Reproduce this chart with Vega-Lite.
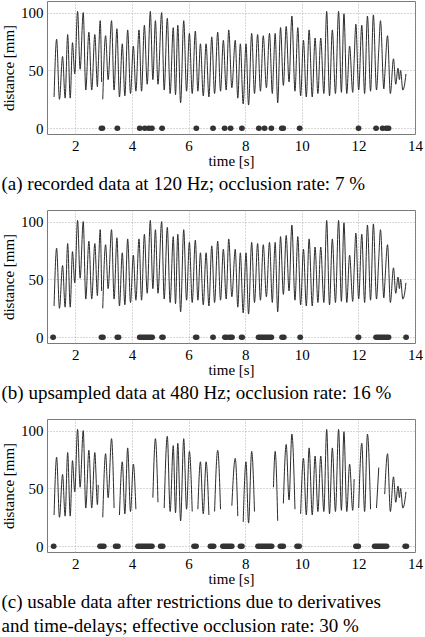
{
  "$schema": "https://vega.github.io/schema/vega-lite/v6.json",
  "background": "white",
  "padding": {"left": 1, "top": 0, "right": 5, "bottom": 0},
  "spacing": 14,
  "config": {
    "view": {"stroke": "#7a7a7a", "strokeWidth": 1},
    "axis": {
      "labelFont": "Liberation Serif", "labelFontSize": 15, "labelColor": "#000",
      "titleFont": "Liberation Serif", "titleFontSize": 15, "titleFontWeight": "normal", "titleColor": "#000",
      "domain": false, "ticks": false, "tickSize": 0, "labelPadding": 4,
      "grid": true, "gridDash": [1, 2], "gridColor": "#9a9a9a", "gridWidth": 0.8
    },
    "title": {"font": "Liberation Serif", "fontSize": 19, "fontWeight": "normal", "color": "#000", "orient": "bottom", "anchor": "start", "frame": "bounds", "offset": 7, "lineHeight": 24}
  },
  "datasets": {
    "sig": [
      {"t": 1.25, "d": 27, "a": 1, "b": 1, "c": 1},
      {"t": 1.34, "d": 77, "a": 1, "b": 1, "c": 1},
      {"t": 1.44, "d": 25, "a": 1, "b": 1, "c": 1},
      {"t": 1.55, "d": 62, "a": 1, "b": 1, "c": 1},
      {"t": 1.64, "d": 26, "a": 1, "b": 1, "c": 1},
      {"t": 1.73, "d": 81, "a": 1, "b": 1, "c": 1},
      {"t": 1.82, "d": 26, "a": 1, "b": 1, "c": 1},
      {"t": 1.90, "d": 74, "a": 1, "b": 1, "c": 1},
      {"t": 1.98, "d": 47, "a": 1, "b": 1, "c": 1},
      {"t": 2.08, "d": 101, "a": 1, "b": 1, "c": 1},
      {"t": 2.17, "d": 51, "a": 1, "b": 1, "c": 1},
      {"t": 2.28, "d": 100, "a": 1, "b": 1, "c": 1},
      {"t": 2.37, "d": 33, "a": 1, "b": 1, "c": 1},
      {"t": 2.48, "d": 83, "a": 1, "b": 1, "c": 1},
      {"t": 2.58, "d": 33, "a": 1, "b": 1, "c": 1},
      {"t": 2.69, "d": 81, "a": 1, "b": 1, "c": 1},
      {"t": 2.78, "d": 36, "a": 1, "b": 1, "c": 1},
      {"t": 2.81, "d": 53, "a": 1, "b": 1, "c": 1},
      {"t": 2.88, "d": 93, "a": 1, "b": 1, "c": 0},
      {"t": 2.93, "d": 40, "a": 1, "b": 1, "c": 0},
      {"t": 2.97, "d": 25, "a": 2, "b": 2, "c": 2},
      {"t": 3.07, "d": 80, "a": 2, "b": 2, "c": 2},
      {"t": 3.16, "d": 42, "a": 2, "b": 2, "c": 2},
      {"t": 3.28, "d": 93, "a": 2, "b": 2, "c": 2},
      {"t": 3.37, "d": 33, "a": 2, "b": 2, "c": 2},
      {"t": 3.47, "d": 86, "a": 2, "b": 2, "c": 0},
      {"t": 3.56, "d": 27, "a": 2, "b": 2, "c": 3},
      {"t": 3.66, "d": 73, "a": 2, "b": 2, "c": 3},
      {"t": 3.75, "d": 28, "a": 2, "b": 2, "c": 3},
      {"t": 3.85, "d": 85, "a": 2, "b": 2, "c": 3},
      {"t": 3.95, "d": 30, "a": 2, "b": 2, "c": 3},
      {"t": 4.05, "d": 71, "a": 2, "b": 2, "c": 3},
      {"t": 4.14, "d": 32, "a": 2, "b": 2, "c": 3},
      {"t": 4.25, "d": 85, "a": 2, "b": 2, "c": 0},
      {"t": 4.34, "d": 32, "a": 2, "b": 2, "c": 0},
      {"t": 4.44, "d": 89, "a": 2, "b": 2, "c": 0},
      {"t": 4.54, "d": 38, "a": 2, "b": 2, "c": 0},
      {"t": 4.65, "d": 101, "a": 2, "b": 2, "c": 0},
      {"t": 4.74, "d": 42, "a": 2, "b": 2, "c": 4},
      {"t": 4.83, "d": 93, "a": 2, "b": 2, "c": 4},
      {"t": 4.92, "d": 38, "a": 2, "b": 2, "c": 4},
      {"t": 5.05, "d": 100, "a": 2, "b": 2, "c": 0},
      {"t": 5.14, "d": 33, "a": 2, "b": 2, "c": 5},
      {"t": 5.25, "d": 95, "a": 2, "b": 2, "c": 5},
      {"t": 5.35, "d": 30, "a": 2, "b": 2, "c": 5},
      {"t": 5.46, "d": 87, "a": 2, "b": 2, "c": 5},
      {"t": 5.54, "d": 29, "a": 2, "b": 2, "c": 5},
      {"t": 5.62, "d": 89, "a": 2, "b": 2, "c": 5},
      {"t": 5.72, "d": 22, "a": 2, "b": 2, "c": 5},
      {"t": 5.83, "d": 93, "a": 2, "b": 2, "c": 5},
      {"t": 5.93, "d": 32, "a": 2, "b": 2, "c": 5},
      {"t": 6.03, "d": 82, "a": 2, "b": 2, "c": 5},
      {"t": 6.13, "d": 30, "a": 2, "b": 2, "c": 5},
      {"t": 6.24, "d": 84, "a": 2, "b": 2, "c": 0},
      {"t": 6.33, "d": 32, "a": 2, "b": 2, "c": 6},
      {"t": 6.42, "d": 73, "a": 2, "b": 2, "c": 6},
      {"t": 6.52, "d": 28, "a": 2, "b": 2, "c": 6},
      {"t": 6.62, "d": 73, "a": 2, "b": 2, "c": 6},
      {"t": 6.72, "d": 27, "a": 2, "b": 2, "c": 6},
      {"t": 6.82, "d": 79, "a": 2, "b": 2, "c": 0},
      {"t": 6.92, "d": 30, "a": 2, "b": 2, "c": 7},
      {"t": 7.03, "d": 83, "a": 2, "b": 2, "c": 7},
      {"t": 7.13, "d": 32, "a": 2, "b": 2, "c": 7},
      {"t": 7.23, "d": 76, "a": 2, "b": 2, "c": 0},
      {"t": 7.33, "d": 33, "a": 2, "b": 2, "c": 0},
      {"t": 7.42, "d": 85, "a": 2, "b": 2, "c": 0},
      {"t": 7.53, "d": 35, "a": 2, "b": 2, "c": 8},
      {"t": 7.65, "d": 76, "a": 2, "b": 2, "c": 8},
      {"t": 7.74, "d": 26, "a": 2, "b": 2, "c": 8},
      {"t": 7.83, "d": 73, "a": 2, "b": 2, "c": 0},
      {"t": 7.93, "d": 21, "a": 2, "b": 2, "c": 9},
      {"t": 8.03, "d": 73, "a": 2, "b": 2, "c": 9},
      {"t": 8.12, "d": 20, "a": 2, "b": 2, "c": 9},
      {"t": 8.23, "d": 82, "a": 2, "b": 2, "c": 9},
      {"t": 8.33, "d": 30, "a": 2, "b": 2, "c": 9},
      {"t": 8.44, "d": 81, "a": 2, "b": 2, "c": 0},
      {"t": 8.54, "d": 32, "a": 2, "b": 2, "c": 0},
      {"t": 8.64, "d": 80, "a": 2, "b": 2, "c": 0},
      {"t": 8.75, "d": 35, "a": 2, "b": 2, "c": 0},
      {"t": 8.86, "d": 82, "a": 2, "b": 2, "c": 0},
      {"t": 8.96, "d": 30, "a": 2, "b": 2, "c": 0},
      {"t": 9.00, "d": 51, "a": 2, "b": 2, "c": 10},
      {"t": 9.06, "d": 82, "a": 2, "b": 2, "c": 10},
      {"t": 9.15, "d": 22, "a": 2, "b": 2, "c": 10},
      {"t": 9.25, "d": 87, "a": 2, "b": 2, "c": 0},
      {"t": 9.35, "d": 37, "a": 2, "b": 2, "c": 11},
      {"t": 9.45, "d": 88, "a": 2, "b": 2, "c": 11},
      {"t": 9.55, "d": 40, "a": 2, "b": 2, "c": 11},
      {"t": 9.65, "d": 97, "a": 2, "b": 2, "c": 11},
      {"t": 9.76, "d": 32, "a": 2, "b": 2, "c": 11},
      {"t": 9.86, "d": 87, "a": 2, "b": 2, "c": 0},
      {"t": 9.96, "d": 28, "a": 2, "b": 2, "c": 12},
      {"t": 10.06, "d": 76, "a": 2, "b": 2, "c": 12},
      {"t": 10.16, "d": 27, "a": 2, "b": 2, "c": 12},
      {"t": 10.26, "d": 85, "a": 2, "b": 2, "c": 12},
      {"t": 10.37, "d": 27, "a": 2, "b": 2, "c": 12},
      {"t": 10.47, "d": 78, "a": 2, "b": 2, "c": 12},
      {"t": 10.57, "d": 30, "a": 2, "b": 2, "c": 12},
      {"t": 10.67, "d": 78, "a": 2, "b": 2, "c": 12},
      {"t": 10.78, "d": 30, "a": 2, "b": 2, "c": 12},
      {"t": 10.88, "d": 101, "a": 2, "b": 2, "c": 12},
      {"t": 10.98, "d": 28, "a": 2, "b": 2, "c": 12},
      {"t": 11.08, "d": 85, "a": 2, "b": 2, "c": 12},
      {"t": 11.19, "d": 30, "a": 2, "b": 2, "c": 12},
      {"t": 11.30, "d": 101, "a": 2, "b": 2, "c": 12},
      {"t": 11.40, "d": 31, "a": 2, "b": 2, "c": 12},
      {"t": 11.49, "d": 99, "a": 2, "b": 2, "c": 12},
      {"t": 11.59, "d": 30, "a": 2, "b": 2, "c": 12},
      {"t": 11.69, "d": 71, "a": 2, "b": 2, "c": 12},
      {"t": 11.80, "d": 31, "a": 2, "b": 2, "c": 12},
      {"t": 11.85, "d": 58, "a": 2, "b": 2, "c": 12},
      {"t": 11.91, "d": 90, "a": 2, "b": 2, "c": 0},
      {"t": 12.01, "d": 33, "a": 2, "b": 2, "c": 13},
      {"t": 12.12, "d": 89, "a": 2, "b": 2, "c": 13},
      {"t": 12.22, "d": 30, "a": 2, "b": 2, "c": 13},
      {"t": 12.32, "d": 97, "a": 2, "b": 2, "c": 13},
      {"t": 12.43, "d": 32, "a": 2, "b": 2, "c": 13},
      {"t": 12.53, "d": 98, "a": 2, "b": 2, "c": 0},
      {"t": 12.64, "d": 33, "a": 2, "b": 2, "c": 14},
      {"t": 12.72, "d": 68, "a": 2, "b": 2, "c": 14},
      {"t": 12.78, "d": 93, "a": 2, "b": 2, "c": 0},
      {"t": 12.90, "d": 34, "a": 2, "b": 2, "c": 0},
      {"t": 12.93, "d": 45, "a": 2, "b": 2, "c": 15},
      {"t": 13.03, "d": 80, "a": 2, "b": 2, "c": 15},
      {"t": 13.13, "d": 30, "a": 2, "b": 2, "c": 15},
      {"t": 13.24, "d": 60, "a": 2, "b": 2, "c": 15},
      {"t": 13.32, "d": 38, "a": 2, "b": 2, "c": 15},
      {"t": 13.40, "d": 52, "a": 2, "b": 2, "c": 15},
      {"t": 13.45, "d": 42, "a": 2, "b": 2, "c": 15},
      {"t": 13.49, "d": 50, "a": 2, "b": 2, "c": 15},
      {"t": 13.57, "d": 33, "a": 2, "b": 2, "c": 15},
      {"t": 13.62, "d": 36, "a": 2, "b": 2, "c": 15},
      {"t": 13.68, "d": 47, "a": 2, "b": 2, "c": 15}
    ],
    "occ": [
      {"p": "a", "t0": 2.92, "t1": 2.96}, {"p": "a", "t0": 3.48, "t1": 3.49}, {"p": "a", "t0": 4.27, "t1": 4.28},
      {"p": "a", "t0": 4.45, "t1": 4.46}, {"p": "a", "t0": 4.59, "t1": 4.60}, {"p": "a", "t0": 4.70, "t1": 4.71},
      {"p": "a", "t0": 5.06, "t1": 5.07}, {"p": "a", "t0": 6.27, "t1": 6.28}, {"p": "a", "t0": 6.86, "t1": 6.87},
      {"p": "a", "t0": 7.27, "t1": 7.28}, {"p": "a", "t0": 7.48, "t1": 7.49}, {"p": "a", "t0": 7.88, "t1": 7.89},
      {"p": "a", "t0": 8.48, "t1": 8.49}, {"p": "a", "t0": 8.68, "t1": 8.69}, {"p": "a", "t0": 8.92, "t1": 8.93},
      {"p": "a", "t0": 9.29, "t1": 9.35}, {"p": "a", "t0": 9.92, "t1": 9.93}, {"p": "a", "t0": 12.00, "t1": 12.01},
      {"p": "a", "t0": 12.62, "t1": 12.63}, {"p": "a", "t0": 12.85, "t1": 12.86}, {"p": "a", "t0": 12.98, "t1": 12.99},
      {"p": "a", "t0": 13.06, "t1": 13.07},
      {"p": "b", "t0": 1.21, "t1": 1.22}, {"p": "b", "t0": 2.92, "t1": 2.98}, {"p": "b", "t0": 3.48, "t1": 3.53},
      {"p": "b", "t0": 4.27, "t1": 4.72}, {"p": "b", "t0": 5.06, "t1": 5.10}, {"p": "b", "t0": 6.25, "t1": 6.29},
      {"p": "b", "t0": 6.86, "t1": 6.87}, {"p": "b", "t0": 7.28, "t1": 7.34}, {"p": "b", "t0": 7.44, "t1": 7.54},
      {"p": "b", "t0": 7.87, "t1": 7.90}, {"p": "b", "t0": 8.47, "t1": 8.93}, {"p": "b", "t0": 9.30, "t1": 9.37},
      {"p": "b", "t0": 9.94, "t1": 9.95}, {"p": "b", "t0": 11.99, "t1": 12.01}, {"p": "b", "t0": 12.62, "t1": 13.07},
      {"p": "b", "t0": 13.68, "t1": 13.69},
      {"p": "c", "t0": 1.23, "t1": 1.24}, {"p": "c", "t0": 2.87, "t1": 3.01}, {"p": "c", "t0": 3.42, "t1": 3.51},
      {"p": "c", "t0": 4.21, "t1": 4.71}, {"p": "c", "t0": 5.01, "t1": 5.09}, {"p": "c", "t0": 6.19, "t1": 6.27},
      {"p": "c", "t0": 6.77, "t1": 6.89}, {"p": "c", "t0": 7.21, "t1": 7.53}, {"p": "c", "t0": 7.83, "t1": 7.89},
      {"p": "c", "t0": 8.45, "t1": 8.94}, {"p": "c", "t0": 9.24, "t1": 9.35}, {"p": "c", "t0": 9.83, "t1": 9.91},
      {"p": "c", "t0": 11.91, "t1": 12.00}, {"p": "c", "t0": 12.57, "t1": 13.00}, {"p": "c", "t0": 13.65, "t1": 13.70}
    ]
  },
  "vconcat": [
    {
      "width": 368, "height": 133,
      "title": {"text": "(a) recorded data at 120 Hz; occlusion rate: 7 %"},
      "layer": [
        {
          "data": {"name": "sig"},
          "transform": [{"filter": "datum.a > 0"}],
          "mark": {"type": "line", "color": "#2b2b2b", "strokeWidth": 1, "interpolate": "monotone"},
          "encoding": {
            "x": {"field": "t", "type": "quantitative", "scale": {"domain": [1, 14], "nice": false, "zero": false},
                  "axis": {"values": [2, 4, 6, 8, 10, 12, 14], "title": "time [s]", "labelFlush": false, "titlePadding": 0}},
            "y": {"field": "d", "type": "quantitative", "scale": {"domain": [-5, 110], "nice": false, "zero": false},
                  "axis": {"values": [0, 50, 100], "title": "distance [mm]", "titlePadding": 4}},
            "detail": {"field": "a"}
          }
        },
        {
          "data": {"name": "occ"},
          "transform": [{"filter": "datum.p == 'a'"}],
          "mark": {"type": "rule", "strokeCap": "round", "strokeWidth": 5.5, "color": "#333"},
          "encoding": {
            "x": {"field": "t0", "type": "quantitative"},
            "x2": {"field": "t1"},
            "y": {"datum": 0, "type": "quantitative"}
          }
        }
      ]
    },
    {
      "width": 368, "height": 133,
      "title": {"text": "(b) upsampled data at 480 Hz; occlusion rate: 16 %"},
      "layer": [
        {
          "data": {"name": "sig"},
          "transform": [{"filter": "datum.b > 0"}],
          "mark": {"type": "line", "color": "#2b2b2b", "strokeWidth": 1, "interpolate": "monotone"},
          "encoding": {
            "x": {"field": "t", "type": "quantitative", "scale": {"domain": [1, 14], "nice": false, "zero": false},
                  "axis": {"values": [2, 4, 6, 8, 10, 12, 14], "title": "time [s]", "labelFlush": false, "titlePadding": 0}},
            "y": {"field": "d", "type": "quantitative", "scale": {"domain": [-5, 110], "nice": false, "zero": false},
                  "axis": {"values": [0, 50, 100], "title": "distance [mm]", "titlePadding": 4}},
            "detail": {"field": "b"}
          }
        },
        {
          "data": {"name": "occ"},
          "transform": [{"filter": "datum.p == 'b'"}],
          "mark": {"type": "rule", "strokeCap": "round", "strokeWidth": 5.5, "color": "#333"},
          "encoding": {
            "x": {"field": "t0", "type": "quantitative"},
            "x2": {"field": "t1"},
            "y": {"datum": 0, "type": "quantitative"}
          }
        }
      ]
    },
    {
      "width": 368, "height": 133,
      "title": {"text": ["(c) usable data after restrictions due to derivatives", "and time-delays; effective occlusion rate: 30 %"]},
      "layer": [
        {
          "data": {"name": "sig"},
          "transform": [{"filter": "datum.c > 0"}],
          "mark": {"type": "line", "color": "#2b2b2b", "strokeWidth": 1, "interpolate": "monotone"},
          "encoding": {
            "x": {"field": "t", "type": "quantitative", "scale": {"domain": [1, 14], "nice": false, "zero": false},
                  "axis": {"values": [2, 4, 6, 8, 10, 12, 14], "title": "time [s]", "labelFlush": false, "titlePadding": 0}},
            "y": {"field": "d", "type": "quantitative", "scale": {"domain": [-5, 110], "nice": false, "zero": false},
                  "axis": {"values": [0, 50, 100], "title": "distance [mm]", "titlePadding": 4}},
            "detail": {"field": "c"}
          }
        },
        {
          "data": {"name": "occ"},
          "transform": [{"filter": "datum.p == 'c'"}],
          "mark": {"type": "rule", "strokeCap": "round", "strokeWidth": 5.5, "color": "#333"},
          "encoding": {
            "x": {"field": "t0", "type": "quantitative"},
            "x2": {"field": "t1"},
            "y": {"datum": 0, "type": "quantitative"}
          }
        }
      ]
    }
  ]
}
